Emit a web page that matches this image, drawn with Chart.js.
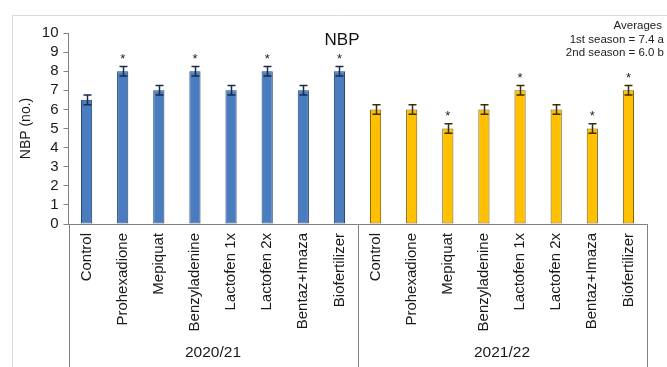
<!DOCTYPE html>
<html>
<head>
<meta charset="utf-8">
<script src="https://cdn.jsdelivr.net/npm/chart.js@4/dist/chart.umd.min.js"></script>
<style>
  html, body { margin: 0; padding: 0; background: #ffffff; }
  #wrap { width: 667px; height: 367px; position: relative; }
</style>
</head>
<body>
<div id="wrap"><canvas id="c" width="667" height="367"></canvas></div>
<script>
// Treatments applied in each growing season
const treatments = ['Control', 'Prohexadione', 'Mepiquat', 'Benzyladenine',
                    'Lactofen 1x', 'Lactofen 2x', 'Bentaz+Imaza', 'Biofertilizer'];
const seasons = ['2020/21', '2021/22'];

// Mean number of branches per plant (NBP)
const season1 = [6.5, 8, 7, 8, 7, 8, 7, 8];
const season2 = [6, 6, 5, 6, 7, 6, 5, 7];

// Standard errors
const errors1 = [0.25, 0.25, 0.25, 0.25, 0.25, 0.25, 0.25, 0.25];
const errors2 = [0.25, 0.25, 0.25, 0.25, 0.25, 0.25, 0.25, 0.25];

// Significant difference from control (*)
const signif1 = [false, true, false, true, false, true, false, true];
const signif2 = [false, false, true, false, true, false, true, true];

// Season averages and mean-separation letters
const seasonAverages = [7.4, 6.0];
const seasonLetters = ['a', 'b'];

const yTicks = [0, 1, 2, 3, 4, 5, 6, 7, 8, 9, 10];

const FONT = "'Liberation Sans', Arial, sans-serif";
const BLUE = '#4a7dbf', BLUE_EDGE = '#22406e', BLUE_ERR = '#1a2b4c';
const GOLD = '#ffc000', GOLD_EDGE = '#7a5c08', GOLD_ERR = '#3a2e08';

const labels = treatments.concat(treatments);
const values = season1.concat(season2);
const errors = errors1.concat(errors2);
const signif = signif1.concat(signif2);
const fills = season1.map(() => BLUE).concat(season2.map(() => GOLD));
const edges = season1.map(() => BLUE_EDGE).concat(season2.map(() => GOLD_EDGE));
const errColors = season1.map(() => BLUE_ERR).concat(season2.map(() => GOLD_ERR));

const crisp = v => Math.round(v) + 0.5;

// Light page frame, season boxes under the axis, error bars, stars and captions
const decorations = {
  id: 'decorations',
  beforeDraw(chart) {
    const ctx = chart.ctx;
    ctx.save();
    ctx.fillStyle = '#ffffff';
    ctx.fillRect(0, 0, chart.width, chart.height);
    ctx.strokeStyle = '#d9d9d9';
    ctx.lineWidth = 1;
    ctx.beginPath();
    ctx.moveTo(12.5, chart.height);
    ctx.lineTo(12.5, 15.5);
    ctx.lineTo(chart.width, 15.5);
    ctx.stroke();
    ctx.restore();
  },
  afterDatasetsDraw(chart) {
    const ctx = chart.ctx;
    const x = chart.scales.x, y = chart.scales.y;
    const meta = chart.getDatasetMeta(0);
    ctx.save();

    // error bars
    meta.data.forEach((bar, i) => {
      const cx = crisp(bar.x);
      const top = y.getPixelForValue(values[i] + errors[i]);
      const bot = y.getPixelForValue(values[i] - errors[i]);
      ctx.strokeStyle = errColors[i];
      ctx.lineWidth = 1.5;
      ctx.beginPath();
      ctx.moveTo(cx, top); ctx.lineTo(cx, bot);
      ctx.moveTo(cx - 4, top); ctx.lineTo(cx + 4, top);
      ctx.moveTo(cx - 4, bot); ctx.lineTo(cx + 4, bot);
      ctx.stroke();
    });

    // significance stars
    ctx.fillStyle = '#222222';
    ctx.font = '13px ' + FONT;
    ctx.textAlign = 'center';
    ctx.textBaseline = 'middle';
    meta.data.forEach((bar, i) => {
      if (!signif[i]) return;
      const top = y.getPixelForValue(values[i] + errors[i]);
      ctx.fillText('*', bar.x, top - 7);
    });

    // season boxes below the x axis
    const n = labels.length;
    const step = (x.right - x.left) / n;
    ctx.strokeStyle = '#808080';
    ctx.lineWidth = 1;
    ctx.beginPath();
    [0, treatments.length, n].forEach(k => {
      const px = crisp(x.left + k * step);
      ctx.moveTo(px, x.top);
      ctx.lineTo(px, chart.height);
    });
    ctx.stroke();

    ctx.fillStyle = '#1a1a1a';
    ctx.font = '15.5px ' + FONT;
    ctx.textBaseline = 'middle';
    seasons.forEach((s, k) => {
      const cx = x.left + (k * treatments.length + treatments.length / 2) * step;
      ctx.fillText(s, cx, 353);
    });

    // chart title
    ctx.font = '17px ' + FONT;
    ctx.fillStyle = '#111111';
    ctx.fillText('NBP', 342, 40);

    // averages note
    ctx.font = '11.5px ' + FONT;
    ctx.textAlign = 'right';
    ctx.fillStyle = '#222222';
    ctx.fillText('Averages', 662, 26);
    seasonAverages.forEach((a, k) => {
      const ord = k === 0 ? '1st' : '2nd';
      ctx.fillText(ord + ' season = ' + a.toFixed(1) + ' ' + seasonLetters[k], 664, 39.5 + k * 13.5);
    });
    ctx.restore();
  }
};

new Chart(document.getElementById('c'), {
  type: 'bar',
  data: {
    labels: labels,
    datasets: [{
      data: values,
      backgroundColor: fills,
      borderColor: edges,
      borderWidth: 1,
      borderSkipped: false,
      categoryPercentage: 1,
      barPercentage: 0.31
    }]
  },
  options: {
    responsive: false,
    animation: false,
    devicePixelRatio: 1,
    layout: { padding: { top: 33, right: 20.5, left: 0, bottom: 0 } },
    plugins: { legend: { display: false }, tooltip: { enabled: false }, title: { display: false } },
    scales: {
      x: {
        grid: { display: false, drawTicks: false, tickLength: 0 },
        border: { display: true, color: '#808080', width: 1 },
        ticks: {
          autoSkip: false,
          minRotation: 90,
          maxRotation: 90,
          padding: 9,
          color: '#1a1a1a',
          font: { family: FONT, size: 15 }
        },
        afterFit(scale) { scale.height = 143; }
      },
      y: {
        min: 0,
        max: 10,
        afterBuildTicks(scale) { scale.ticks = yTicks.map(v => ({ value: v })); },
        grid: { drawOnChartArea: false, drawTicks: true, tickLength: 5, color: '#808080' },
        border: { display: true, color: '#808080', width: 1 },
        ticks: {
          autoSkip: false,
          stepSize: 1,
          padding: 5,
          color: '#1a1a1a',
          font: { family: FONT, size: 15 }
        },
        title: {
          display: true,
          text: 'NBP (no.)',
          color: '#1a1a1a',
          font: { family: FONT, size: 14 },
          padding: { top: 18, bottom: 0 }
        },
        afterFit(scale) { scale.width = 68.5; }
      }
    }
  },
  plugins: [decorations]
});
</script>
</body>
</html>
